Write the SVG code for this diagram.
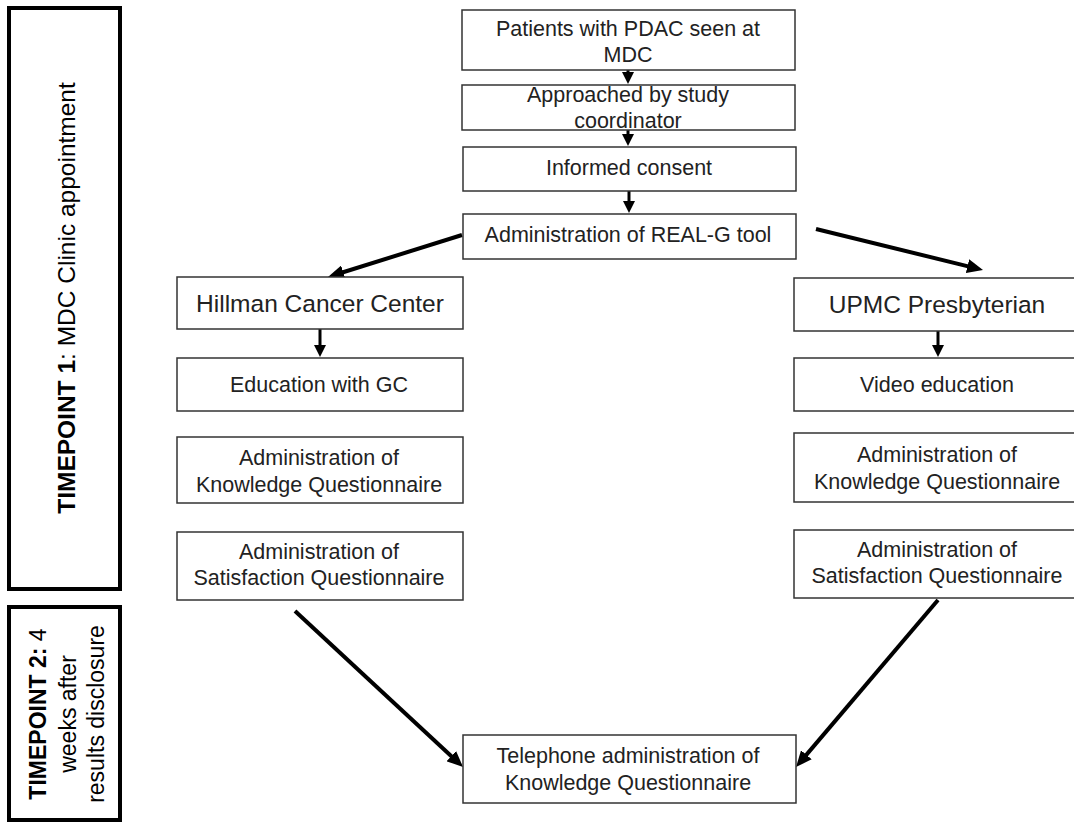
<svg xmlns="http://www.w3.org/2000/svg" width="1074" height="825" viewBox="0 0 1074 825">
<defs>
<style>
.box{fill:#fff;stroke:#333;stroke-width:1.5}
.tp{fill:#fff;stroke:#000;stroke-width:4}
.t{font-family:"Liberation Sans",Arial,sans-serif;font-size:21.5px;fill:#222;text-anchor:middle}
.big{font-size:24.5px}
.tpt{font-family:"Liberation Sans",Arial,sans-serif;fill:#000;text-anchor:middle}
.b{font-weight:bold}
.a1{stroke:#000;stroke-width:3;fill:none;marker-end:url(#hs)}
.a2{stroke:#000;stroke-width:4;fill:none;marker-end:url(#hl)}
</style>
<marker id="hs" markerUnits="userSpaceOnUse" viewBox="0 0 12 12" refX="4" refY="6" markerWidth="12" markerHeight="12" orient="auto">
<path d="M0,0 L12,6 L0,12 z" fill="#000"/>
</marker>
<marker id="hl" markerUnits="userSpaceOnUse" viewBox="0 0 16 14" refX="6" refY="7" markerWidth="16" markerHeight="14" orient="auto">
<path d="M0,0 L16,7 L0,14 z" fill="#000"/>
</marker>
</defs>
<rect width="1074" height="825" fill="#fff"/>

<g id="timepoint1">
<rect class="tp" x="9" y="8" width="111" height="581"/>
<text class="tpt" font-size="24.5" transform="translate(75,298) rotate(-90)"><tspan class="b">TIMEPOINT 1</tspan>: MDC Clinic appointment</text>
</g>
<g id="timepoint2">
<rect class="tp" x="9" y="607" width="111" height="213"/>
<g transform="translate(0,714) rotate(-90)">
<text class="tpt" font-size="23" x="0" y="46"><tspan class="b">TIMEPOINT 2:</tspan> 4</text>
<text class="tpt" font-size="23" x="0" y="76">weeks after</text>
<text class="tpt" font-size="23" x="0" y="104">results disclosure</text>
</g>
</g>

<g id="connectors">
<line class="a1" x1="628" y1="70" x2="628" y2="76"/>
<line class="a1" x1="628" y1="130" x2="628" y2="138"/>
<line class="a1" x1="629" y1="191" x2="629" y2="205"/>
<line class="a1" x1="320" y1="329" x2="320" y2="349"/>
<line class="a1" x1="938" y1="331" x2="938" y2="349"/>
<line class="a2" x1="462" y1="235" x2="337.5" y2="274"/>
<line class="a2" x1="816" y1="229" x2="973.3" y2="267.6"/>
<line class="a2" x1="295" y1="611" x2="455.7" y2="760.2"/>
<line class="a2" x1="938" y1="600" x2="802.5" y2="759.4"/>
</g>

<g id="patients">
<rect class="box" x="462" y="10" width="333" height="60"/>
<text class="t" x="628" y="36">Patients with PDAC seen at</text>
<text class="t" x="628" y="62">MDC</text>
</g>
<g id="approached">
<rect class="box" x="462" y="85" width="333" height="45"/>
<text class="t" x="628" y="102">Approached by study</text>
<text class="t" x="628" y="128">coordinator</text>
</g>
<g id="consent">
<rect class="box" x="463" y="147" width="333" height="44"/>
<text class="t" x="629" y="175">Informed consent</text>
</g>
<g id="realg">
<rect class="box" x="463" y="214" width="333" height="45"/>
<text class="t" x="628" y="242">Administration of REAL-G tool</text>
</g>

<g id="hillman">
<rect class="box" x="177" y="277" width="286" height="52"/>
<text class="t big" x="320" y="312">Hillman Cancer Center</text>
</g>
<g id="education-gc">
<rect class="box" x="177" y="358" width="286" height="53"/>
<text class="t" x="319" y="392">Education with GC</text>
</g>
<g id="knowledge-left">
<rect class="box" x="177" y="437" width="286" height="66"/>
<text class="t" x="319" y="465">Administration of</text>
<text class="t" x="319" y="492">Knowledge Questionnaire</text>
</g>
<g id="satisfaction-left">
<rect class="box" x="177" y="532" width="286" height="68"/>
<text class="t" x="319" y="559">Administration of</text>
<text class="t" x="319" y="585">Satisfaction Questionnaire</text>
</g>

<g id="upmc">
<rect class="box" x="794" y="278" width="290" height="53"/>
<text class="t big" x="937" y="313">UPMC Presbyterian</text>
</g>
<g id="video">
<rect class="box" x="794" y="358" width="290" height="53"/>
<text class="t" x="937" y="392">Video education</text>
</g>
<g id="knowledge-right">
<rect class="box" x="794" y="433" width="290" height="69"/>
<text class="t" x="937" y="462">Administration of</text>
<text class="t" x="937" y="489">Knowledge Questionnaire</text>
</g>
<g id="satisfaction-right">
<rect class="box" x="794" y="530" width="290" height="68"/>
<text class="t" x="937" y="557">Administration of</text>
<text class="t" x="937" y="583">Satisfaction Questionnaire</text>
</g>

<g id="telephone">
<rect class="box" x="463" y="735" width="333" height="68"/>
<text class="t" x="628" y="763">Telephone administration of</text>
<text class="t" x="628" y="790">Knowledge Questionnaire</text>
</g>
</svg>
